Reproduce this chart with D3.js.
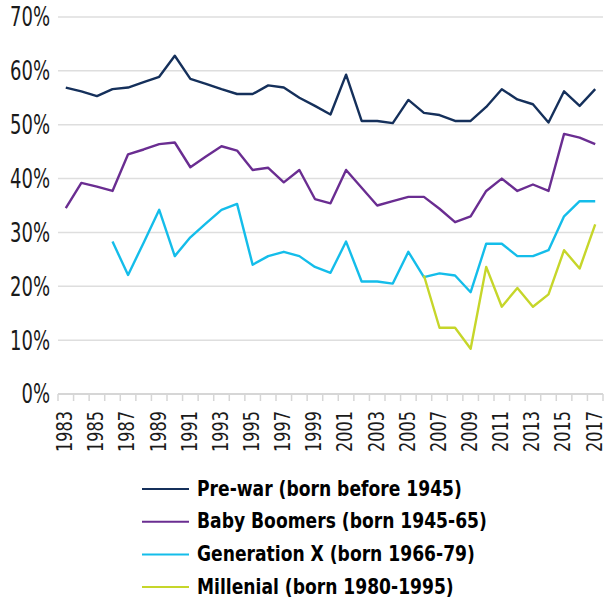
<!DOCTYPE html>
<html>
<head>
<meta charset="utf-8">
<script src="https://cdn.jsdelivr.net/npm/d3@7"></script>
<style>
  body { margin: 0; background: #fff; }
  svg text { font-family: "Liberation Sans Narrow", "DejaVu Sans Condensed", sans-serif; fill: #1a1a1a; }
</style>
</head>
<body>
<div id="chart"></div>
<script>
var svgWidth = 606;
var svgHeight = 603;

// Data
var years = d3.range(1983, 2018);
var yTicks = [0, 10, 20, 30, 40, 50, 60, 70];

var preWar = [56.9, 56.2, 55.3, 56.6, 56.9, 57.9, 58.9, 62.8, 58.5, 57.6, 56.6, 55.7, 55.7, 57.3, 56.9, 55.0,
    53.5, 51.9, 59.3, 50.7, 50.7, 50.3, 54.6, 52.2, 51.8, 50.7, 50.7, 53.3, 56.6, 54.7, 53.8, 50.4, 56.2, 53.5, 56.6];
var boomers = [34.5, 39.2, 38.5, 37.7, 44.5, 45.4, 46.4, 46.7, 42.1, 44.1, 46.0, 45.2, 41.6, 42.0, 39.3, 41.6,
    36.2, 35.4, 41.6, 38.3, 35.0, 35.8, 36.6, 36.6, 34.4, 31.9, 33.0, 37.7, 40.0, 37.7, 38.9, 37.7, 48.3, 47.6, 46.4];
// Generation X starts in 1986
var genX = [null, null, null, 28.3, 22.1, 28.1, 34.2, 25.6, 29.1, 31.7, 34.2, 35.3, 24.0, 25.6, 26.4, 25.6,
    23.6, 22.5, 28.3, 20.9, 20.9, 20.5, 26.4, 21.7, 22.4, 22.0, 18.9, 27.9, 27.9, 25.6, 25.6, 26.7, 33.0, 35.8, 35.8];
// Millenials start in 2006
var millenial = [null, null, null, null, null, null, null, null, null, null, null, null, null, null, null, null,
    null, null, null, null, null, null, null, 22.0, 12.3, 12.3, 8.4, 23.6, 16.2, 19.7, 16.2, 18.5, 26.7, 23.3, 31.5];

var seriesNames = ["Pre-war (born before 1945)", "Baby Boomers (born 1945-65)", "Generation X (born 1966-79)", "Millenial (born 1980-1995)"];
var seriesColors = ["#15305b", "#6a2d91", "#14bdea", "#c6d62a"];
var seriesValues = [preWar, boomers, genX, millenial];

var svg = d3.select("#chart")
    .append("svg")
    .attr("width", svgWidth)
    .attr("height", svgHeight);

// the original uses a condensed face, so squeeze the fallback font horizontally
function squeezeFactor(sel, target) {
    var w = sel.node().getComputedTextLength();
    return w > 0 ? target / w : 1;
}

// Scales
var x = d3.scaleBand()
    .domain(years)
    .range([58, 603]);

var y = d3.scaleLinear()
    .domain([0, 70])
    .range([394, 17]);

// Gridlines
svg.append("g").selectAll("line")
    .data(yTicks.slice(1))
    .enter()
    .append("line")
    .attr("x1", 58)
    .attr("x2", 603)
    .attr("y1", d => y(d))
    .attr("y2", d => y(d))
    .attr("stroke", "#dedede")
    .attr("stroke-width", 1.5);

// Y axis labels
var yLabels = svg.append("g").selectAll("text")
    .data(yTicks)
    .enter()
    .append("text")
    .attr("dy", "0.36em")
    .attr("text-anchor", "end")
    .attr("font-size", 26)
    .text(d => d + "%");

var ySx = squeezeFactor(yLabels.filter(d => d === 70), 40);
yLabels.attr("transform", d => `translate(50, ${y(d)}) scale(${ySx}, 1)`);

// X axis line and ticks at the category boundaries
svg.append("line")
    .attr("x1", 58)
    .attr("x2", 603)
    .attr("y1", y(0))
    .attr("y2", y(0))
    .attr("stroke", "#d6d6d6")
    .attr("stroke-width", 2);

svg.append("g").selectAll("line")
    .data(years.concat([2018]))
    .enter()
    .append("line")
    .attr("x1", d => d === 2018 ? x.range()[1] : x(d))
    .attr("x2", d => d === 2018 ? x.range()[1] : x(d))
    .attr("y1", y(0))
    .attr("y2", y(0) + 7)
    .attr("stroke", "#d6d6d6")
    .attr("stroke-width", 1.5);

// X labels, every other year
var xLabels = svg.append("g").selectAll("text")
    .data(years.filter(d => d % 2 === 1))
    .enter()
    .append("text")
    .attr("dy", "0.3em")
    .attr("text-anchor", "end")
    .attr("font-size", 21)
    .text(d => d);

var xSx = squeezeFactor(xLabels.filter((d, i) => i === 0), 41);
xLabels.attr("transform", d => `translate(${x(d) + x.bandwidth() / 2}, 411) rotate(-90) scale(${xSx}, 1)`);

// Lines
var line = d3.line()
    .defined(d => d.v != null)
    .x(d => x(d.year) + x.bandwidth() / 2)
    .y(d => y(d.v));

seriesValues.forEach(function (vals, i) {
    svg.append("path")
        .datum(years.map((yr, j) => ({ year: yr, v: vals[j] })))
        .attr("fill", "none")
        .attr("stroke", seriesColors[i])
        .attr("stroke-width", 2.4)
        .attr("stroke-linejoin", "round")
        .attr("d", line);
});

// Legend
var legend = svg.append("g").selectAll("g")
    .data(seriesNames)
    .enter()
    .append("g")
    .attr("transform", (d, i) => `translate(0, ${489 + i * 32.7})`);

legend.append("line")
    .attr("x1", 142)
    .attr("x2", 189)
    .attr("stroke", (d, i) => seriesColors[i])
    .attr("stroke-width", 2);

var legendText = legend.append("text")
    .attr("dy", "0.36em")
    .attr("font-size", 21)
    .attr("font-weight", "bold")
    .style("fill", "#000")
    .text(d => d);

var lSx = squeezeFactor(legendText.filter((d, i) => i === 0), 265);
legendText.attr("transform", `translate(197, -1) scale(${lSx}, 1)`);
</script>
</body>
</html>
